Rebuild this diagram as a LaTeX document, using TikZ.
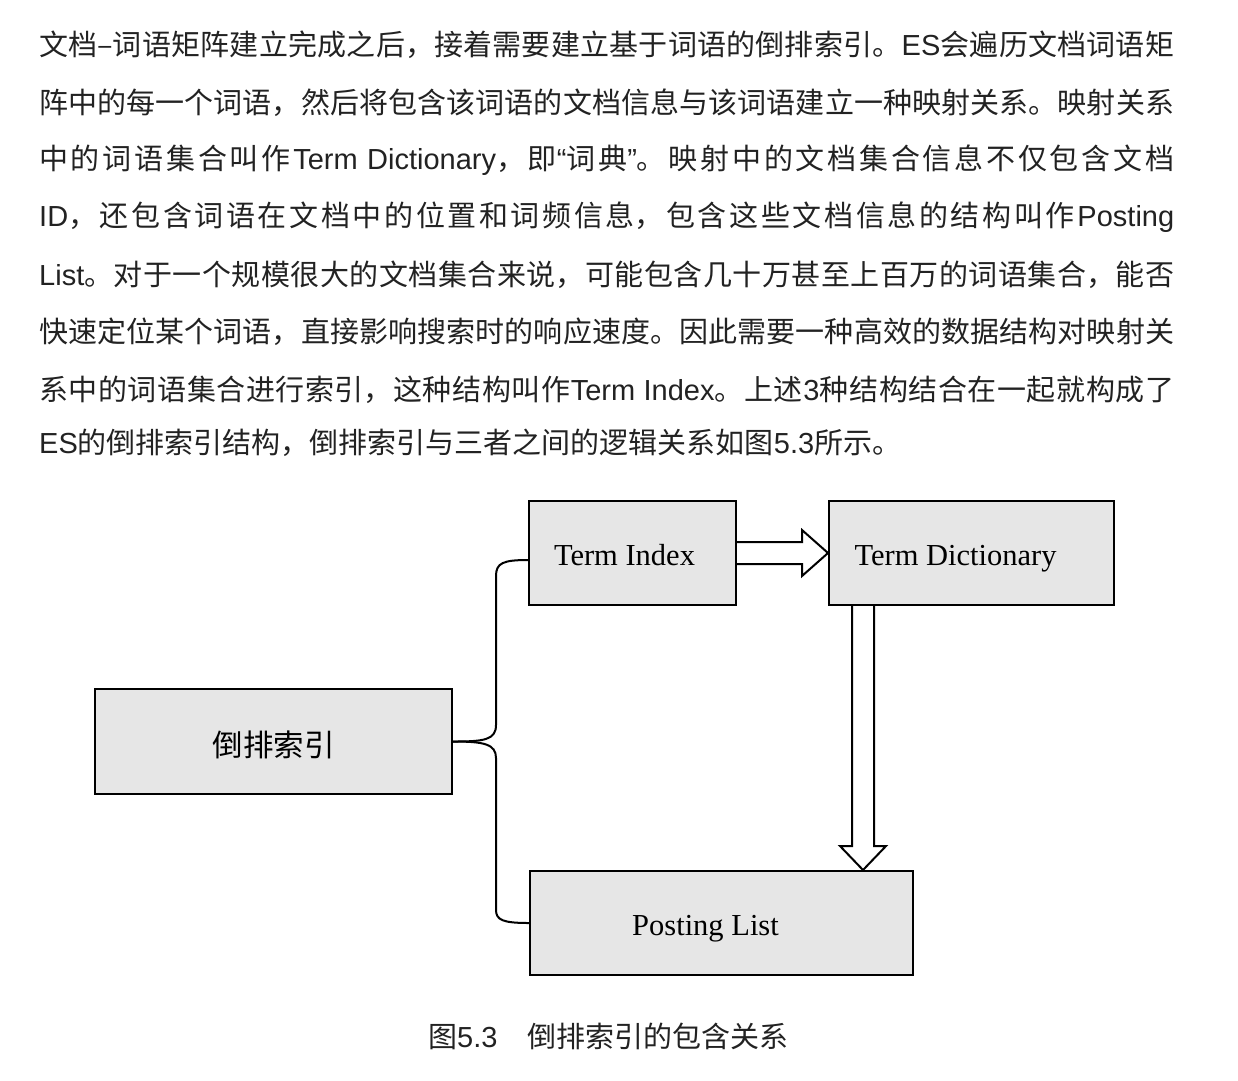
\documentclass[tikz,border=0pt]{standalone}
\usepackage{fontspec}
\setmainfont{Liberation Serif}
\newfontfamily\cjk{Noto Sans CJK SC}
\newfontfamily\latsans{Liberation Sans}
\newcommand\lat[1]{{\latsans #1}}
\newcommand\sg{\hskip 0pt plus 8pt\relax}
\XeTeXlinebreaklocale "zh"
\XeTeXlinebreakskip=0pt plus 8pt
\XeTeXlinebreakpenalty=10000
\hbadness=10000 \tolerance=10000 \hfuzz=60pt
\usetikzlibrary{calc}
\definecolor{txt}{HTML}{222222}
\definecolor{boxfill}{HTML}{E6E6E6}
\newcommand\jline[1]{\parbox{1135pt}{\parfillskip=0pt\parindent=0pt\leavevmode#1}}
\tikzset{
  paraline/.style={anchor=base west, inner sep=0pt, text=txt, font=\cjk\fontsize{29}{34}\selectfont},
  boxnode/.style={draw=black, line width=2pt, fill=boxfill, inner sep=0pt, text height=25pt, text depth=0pt, font=\fontsize{30.5}{36}\selectfont},
  hollow/.style={draw=black, line width=2pt, fill=none, line join=miter},
  bracket/.style={draw=black, line width=2pt},
}
\begin{document}
\begin{tikzpicture}[x=1pt,y=-1pt]
\useasboundingbox (0,0) rectangle (1238,1080);
% paragraph
\node[paraline] (p1) at (39,51) {\jline{文档–词语矩阵建立完成之后，接着需要建立基于词语的倒排索引。\sg\lat{ES}\sg 会遍历文档词语矩}};
\node[paraline] (p2) at (39,109) {\jline{阵中的每一个词语，然后将包含该词语的文档信息与该词语建立一种映射关系。映射关系}};
\node[paraline] (p3) at (39,166) {\jline{中的词语集合叫作\sg\lat{Term~Dictionary}，即\lat{“}词典\lat{”}。映射中的文档集合信息不仅包含文档}};
\node[paraline] (p4) at (39,223) {\jline{\lat{ID}，还包含词语在文档中的位置和词频信息，包含这些文档信息的结构叫作\sg\lat{Posting}}};
\node[paraline] (p5) at (39,281) {\jline{\lat{List}。对于一个规模很大的文档集合来说，可能包含几十万甚至上百万的词语集合，能否}};
\node[paraline] (p6) at (39,338) {\jline{快速定位某个词语，直接影响搜索时的响应速度。因此需要一种高效的数据结构对映射关}};
\node[paraline] (p7) at (39,396) {\jline{系中的词语集合进行索引，这种结构叫作\sg\lat{Term~Index}。上述\sg\lat{3}\sg 种结构结合在一起就构成了}};
\node[paraline] (p8) at (39,453) {\lat{ES}的倒排索引结构，倒排索引与三者之间的逻辑关系如图\lat{5.3}所示。};
% boxes
\node[boxnode, minimum width=207pt, minimum height=104pt] (ti) at (632.5,553) {Term Index\hspace*{16pt}};
\node[boxnode, minimum width=285pt, minimum height=104pt] (td) at (971.5,553) {Term Dictionary\hspace*{32pt}};
\node[boxnode, minimum width=357pt, minimum height=105pt, text height=30pt, font=\cjk\fontsize{30.5}{36}\selectfont] (ix) at (273.5,741.5) {倒排索引};
\node[boxnode, minimum width=383pt, minimum height=104pt, text height=24pt] (pl) at (721.5,923) {Posting List\hspace*{32pt}};
% hollow right arrow
\draw[hollow] ([yshift=11pt]ti.east) -- ([xshift=-26pt,yshift=11pt]td.west) -- ([xshift=-26pt,yshift=23pt]td.west) -- (td.west) -- ([xshift=-26pt,yshift=-23pt]td.west) -- ([xshift=-26pt,yshift=-11pt]td.west) -- ([yshift=-11pt]ti.east);
% hollow down arrow
\coordinate (dtop) at ([xshift=35pt]td.south west);
\coordinate (dtip) at (dtop |- pl.north);
\draw[hollow] ([xshift=-11pt]dtop) -- ([xshift=-11pt,yshift=24pt]dtip) -- ([xshift=-23pt,yshift=24pt]dtip) -- (dtip) -- ([xshift=23pt,yshift=24pt]dtip) -- ([xshift=11pt,yshift=24pt]dtip) -- ([xshift=11pt]dtop);
% bracket
\draw[bracket] (ix.east) .. controls (484,741.5) and (496,740) .. (496,725) -- (496,576) .. controls (496,563) and (503,560) .. ([yshift=-7pt]ti.west);
\draw[bracket] (ix.east) .. controls (484,741.5) and (496,744) .. (496,758) -- (496,910) .. controls (496,920) and (503,923) .. (pl.west);
% caption
\node[paraline] (cap) at (428,1047) {图\lat{5.3}\hspace{30pt}倒排索引的包含关系};
\end{tikzpicture}
\end{document}
